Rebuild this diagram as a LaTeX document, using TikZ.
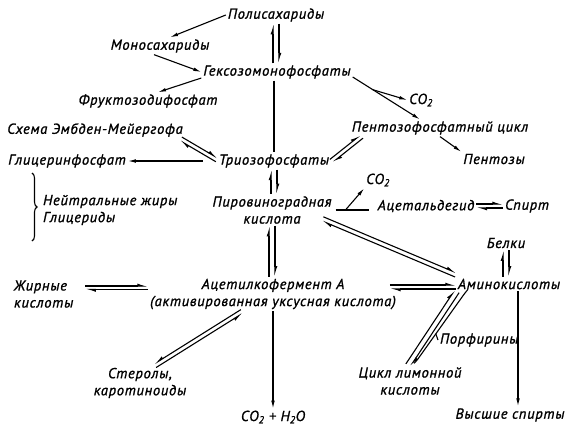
\documentclass[tikz,border=0pt]{standalone}
\usepackage{fontspec}
\setmainfont[LetterSpace=5,FakeBold=1.2]{PT Sans}
\usetikzlibrary{arrows.meta,decorations.pathreplacing}

\begin{document}
\begin{tikzpicture}[x=1pt,y=-1pt,line width=1.1pt,
	every node/.style={font=\itshape\fontsize{14.5}{17}\selectfont,inner sep=1.5pt},
	fw/.style={-{Latex[length=8pt,width=3.6pt]}},
	hw/.style={-{Latex[harpoon,length=8pt,width=5pt]}},
	hws/.style={-{Latex[harpoon,swap,length=8pt,width=5pt]}},
	off/.style={transform canvas={shift={(#1)}}}]
	\useasboundingbox (0,0) rectangle (570,434);

	\node (poly) at (276,15) {Полисахариды};
	\node (mono) at (160,46) {Моносахариды};
	\node (hex) at (277,72) {Гексозомонофосфаты};
	\node (fruc) at (148,101) {Фруктозодифосфат};
	\node (co2a) at (421,100) {CO\textsubscript{2}};
	\node (pent) at (440,128) {Пентозофосфатный цикл};
	\node (embden) at (95,130) {Схема Эмбден-Мейергофа};
	\node (glyc) at (67,161) {Глицеринфосфат};
	\node (trio) at (274,161) {Триозофосфаты};
	\node (pentoz) at (494,159) {Пентозы};
	\node[align=left,anchor=west] (fats) at (41,210) {Нейтральные жиры\\Глицериды};
	\node (co2b) at (378,180) {CO\textsubscript{2}};
	\node[align=center] (pyr) at (272,210) {Пировиноградная\\кислота};
	\node (acetal) at (426,206) {Ацетальдегид};
	\node (spirt) at (527,206) {Спирт};
	\node (belki) at (506,243) {Белки};
	\node[align=left,anchor=west] (fatac) at (12,294) {Жирные\\кислоты};
	\node[align=center] (acoa) at (273,294) {Ацетилкофермент А\\(активированная уксусная кислота)};
	\node (amino) at (509,284) {Аминокислоты};
	\node[anchor=west] (porph) at (438,340) {Порфирины};
	\node[align=center] (cycle) at (410,381) {Цикл лимонной\\кислоты};
	\node[align=center] (sterol) at (140,383) {Стеролы,\\каротиноиды};
	\node (co2c) at (273,417) {CO\textsubscript{2} + H\textsubscript{2}O};
	\node (higher) at (510,415) {Высшие спирты};

	\draw[decorate,decoration={brace,amplitude=5pt}] (32,173) -- (32,241);

	\draw[fw] (poly.west) -- ([xshift=10pt]mono.north);
	\draw[fw] ([xshift=-6pt]mono.south) -- (hex.west);
	\draw[fw] ([yshift=-6pt]hex.west) -- ([xshift=10pt]fruc.north);
	\draw (trio.north |- hex.south) -- (trio.north);
	\draw[fw] ([yshift=-5pt]hex.east) -- ([xshift=-20pt]pent.north) coordinate[pos=0.3] (hexbr);
	\draw[fw] (hexbr) -- (co2a.west);
	\draw[fw] (pent.south) -- (pentoz.north west);
	\draw[fw] ([xshift=-14pt]trio.west) -- (glyc.east);

	\draw[hw,off={1.2pt,-1.6pt}] ([xshift=12pt]pent.south west) -- (trio.east);
	\draw[hw,off={-1.2pt,1.6pt}] (trio.east) -- ([xshift=12pt]pent.south west);
	\draw[hw,off={1.1pt,1.7pt}] ([xshift=-4pt]embden.south east) -- ([yshift=1pt]trio.west);
	\draw[hw,off={-1.1pt,-1.7pt}] ([yshift=1pt]trio.west) -- ([xshift=-4pt]embden.south east);

	\foreach \a/\b in {poly/hex,trio/pyr,pyr/acoa,belki/amino}
	{
		\draw[hw] ([xshift=-3pt]\a.south |- \b.north) -- ([xshift=-3pt]\a.south);
		\draw[hw] ([xshift=3pt]\a.south) -- ([xshift=3pt]\a.south |- \b.north);
	}

	\draw ([xshift=2pt]pyr.east) -- ([xshift=35pt]pyr.east) coordinate[pos=0.3] (pyrbr);
	\draw[fw] (pyrbr) -- (co2b.south west);
	\draw[hw] ([yshift=2pt]acetal.east) -- ([yshift=2pt]spirt.west);
	\draw[hw] ([yshift=-2pt]spirt.west) -- ([yshift=-2pt]acetal.east);
	\draw[hw,off={0.8pt,2pt}] ([xshift=-11pt,yshift=7pt]pyr.south east) -- ([yshift=9pt]amino.west);
	\draw[hw,off={-0.8pt,-2pt}] ([yshift=9pt]amino.west) -- ([xshift=-11pt,yshift=7pt]pyr.south east);

	\draw[hw] ([xshift=10pt,yshift=8pt]fatac.east) -- ([yshift=8pt]acoa.west);
	\draw[hw] ([yshift=4.5pt]acoa.west) -- ([xshift=10pt,yshift=4.5pt]fatac.east);
	\draw[hw] ([xshift=-8pt,yshift=9pt]acoa.east) -- ([yshift=-1pt]amino.west);
	\draw[hw] ([yshift=-5pt]amino.west) -- ([xshift=-8pt,yshift=5pt]acoa.east);
	\draw[hws,off={-1.1pt,1.7pt}] ([xshift=-31pt]acoa.south) -- ([xshift=15pt]sterol.north);
	\draw[hws,off={1.1pt,-1.7pt}] ([xshift=15pt]sterol.north) -- ([xshift=-31pt]acoa.south);
	\draw[fw] (acoa.south) -- (acoa.south |- co2c.north);
	\draw[fw] ([xshift=9pt]amino.south) -- ([xshift=9pt]amino.south |- higher.north);

	\draw[hw,off={-2.1pt,1.4pt}] ([xshift=-2pt]cycle.north) -- ([xshift=-52pt]amino.south);
	\draw[hw,off={2.1pt,-1.4pt}] ([xshift=-52pt]amino.south) -- ([xshift=-2pt]cycle.north);
	\draw[rounded corners=1.5pt] ([xshift=-41pt,yshift=2pt]amino.south) -- ([xshift=-45pt,yshift=-3pt]amino.south) -- ([xshift=7pt,yshift=5pt]cycle.north) coordinate[pos=0.6] (porhk) -- ([xshift=4pt,yshift=2pt]cycle.north);
	\draw (porhk) -- (porph.west);
\end{tikzpicture}
\end{document}
